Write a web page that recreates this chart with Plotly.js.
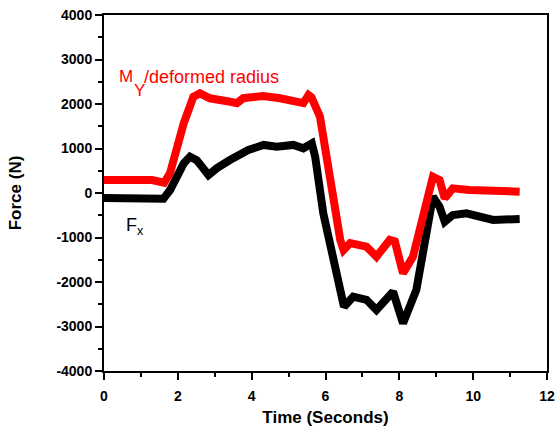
<!DOCTYPE html>
<html><head><meta charset="utf-8">
<script src="https://cdn.plot.ly/plotly-3.0.1.min.js"></script>
<style>html,body{margin:0;padding:0;background:#fff;}</style>
</head><body><div id="chart" style="width:559px;height:432px;"></div>
<script>
const myTime = [0, 0.5, 1.0, 1.3, 1.63, 1.79, 2.16, 2.42, 2.6, 2.87, 3.42, 3.6, 3.77, 4.31, 4.77, 5.4, 5.54, 5.62, 5.85, 6.12, 6.4, 6.49, 6.67, 7.11, 7.38, 7.74, 7.88, 8.1, 8.37, 8.91, 9.09, 9.23, 9.45, 9.9, 10.5, 11.26];
const myForce = [290, 290, 290, 290, 230, 450, 1566, 2160, 2240, 2128, 2050, 2020, 2130, 2180, 2130, 2020, 2200, 2150, 1715, 290, -1056, -1280, -1125, -1205, -1430, -1055, -1090, -1805, -1430, 365, 290, -120, 105, 67, 45, 30];
const fxTime = [0, 0.5, 1.0, 1.45, 1.61, 1.79, 2.16, 2.33, 2.51, 2.83, 3.05, 3.41, 3.91, 4.32, 4.68, 5.13, 5.4, 5.63, 5.72, 5.94, 6.4, 6.5, 6.75, 7.11, 7.38, 7.83, 8.1, 8.46, 8.91, 9.09, 9.23, 9.45, 9.82, 10.54, 11.26];
const fxForce = [-110, -110, -110, -110, -130, 67, 667, 815, 740, 404, 555, 740, 966, 1080, 1040, 1080, 1005, 1115, 815, -455, -2330, -2555, -2330, -2400, -2630, -2220, -2930, -2180, -80, -310, -645, -495, -455, -605, -585];
const xTicks = [0, 2, 4, 6, 8, 10, 12];
const yTicks = [-4000, -3000, -2000, -1000, 0, 1000, 2000, 3000, 4000];

const fam = '"Liberation Sans", Arial, sans-serif';
const tickFont = {family: fam, size: 14, color: '#000', weight: 'bold'};
const titleFont = {family: fam, size: 17, color: '#000', weight: 'bold'};
const traces = [
  {x: fxTime, y: fxForce, mode: 'lines', line: {color: '#000000', width: 8}, hoverinfo: 'skip'},
  {x: myTime, y: myForce, mode: 'lines', line: {color: '#ff0000', width: 8}, hoverinfo: 'skip'}
];
const axisCommon = {
  showgrid: false, zeroline: false, showline: true, linecolor: '#000', linewidth: 2,
  mirror: true, ticks: 'outside', ticklen: 7, tickwidth: 2, tickcolor: '#000',
  tickfont: tickFont
};
const layout = {
  width: 559, height: 432,
  margin: {l: 104, r: 12, t: 15, b: 61},
  paper_bgcolor: '#fff', plot_bgcolor: '#fff',
  showlegend: false,
  xaxis: Object.assign({}, axisCommon, {
    range: [0, 12], tickvals: xTicks, ticktext: xTicks.map(String),
    ticklabelstandoff: 4,
    minor: {dtick: 1, tick0: 0, ticks: 'outside', ticklen: 4, tickwidth: 2, tickcolor: '#000'},
    title: {text: 'Time (Seconds)', font: titleFont, standoff: 8}
  }),
  yaxis: Object.assign({}, axisCommon, {
    range: [-4000, 4000], tickvals: yTicks, ticktext: yTicks.map(String),
    minor: {dtick: 500, tick0: 0, ticks: 'outside', ticklen: 4, tickwidth: 2, tickcolor: '#000'},
    title: {text: 'Force (N)', font: titleFont, standoff: 30}
  }),
  annotations: [
    {x: 0.35, y: 2607, xref: 'x', yref: 'y', xanchor: 'left', yanchor: 'middle', showarrow: false,
     text: 'M', font: {family: fam, size: 17, color: '#ff0000'}},
    {x: 0.76, y: 2303, xref: 'x', yref: 'y', xanchor: 'left', yanchor: 'middle', showarrow: false,
     text: 'Y', font: {family: fam, size: 17, color: '#ff0000'}},
    {x: 1.03, y: 2607, xref: 'x', yref: 'y', xanchor: 'left', yanchor: 'middle', showarrow: false,
     text: '/deformed radius', font: {family: fam, size: 18, color: '#ff0000'}},
    {x: 0.55, y: -753, xref: 'x', yref: 'y', xanchor: 'left', yanchor: 'middle', showarrow: false,
     text: 'F<sub>x</sub>', font: {family: fam, size: 18, color: '#000'}}
  ]
};
Plotly.newPlot('chart', traces, layout, {staticPlot: true, displayModeBar: false});
</script></body></html>
